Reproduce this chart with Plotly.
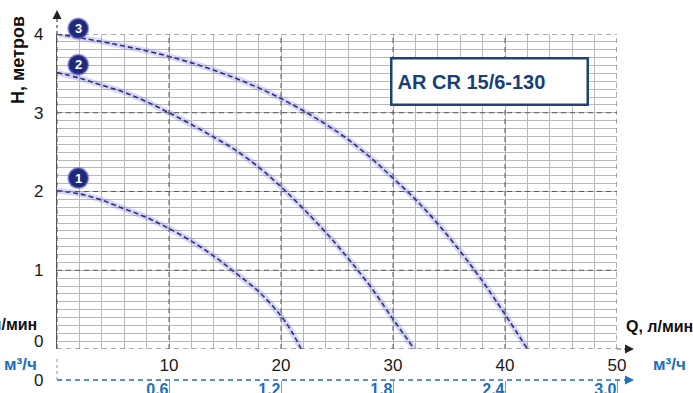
import plotly.graph_objects as go

# Pump curves: flow Q (л/мин) vs head H (метров) for speeds 1, 2, 3
q1 = [0, 2, 4, 6, 8, 10, 12, 14, 16, 18, 20, 21, 21.8]
h1 = [2.01, 1.97, 1.89, 1.78, 1.67, 1.53, 1.37, 1.18, 0.96, 0.73, 0.42, 0.21, 0.0]

q2 = [0, 2, 4, 6, 8, 10, 12, 14, 16, 18, 20, 22, 24, 26, 28, 30, 31.9]
h2 = [3.51, 3.44, 3.35, 3.26, 3.14, 3.00, 2.85, 2.69, 2.52, 2.31, 2.06, 1.78,
      1.48, 1.15, 0.79, 0.38, 0.0]

q3 = [0, 5, 10, 15, 20, 25, 28, 30, 32, 34, 36, 38, 40, 42]
h3 = [4.0, 3.875, 3.715, 3.49, 3.18, 2.76, 2.43, 2.17, 1.90, 1.59, 1.24, 0.86, 0.44, 0.0]

speed_labels = ["1", "2", "3"]
label_q = [1.9, 1.9, 1.9]
label_h = [2.17, 3.61, 4.07]

q_max, q_major, q_minor = 50, 10, 2
h_max, h_major_every = 4, 10   # minor step 0.1, labelled every 10th line
m3_ticks = [0.6, 1.2, 1.8, 2.4, 3.0]
m3_ticktext = ["0,6", "1,2", "1,8", "2,4", "3,0"]

W, H = 693, 393
L, R, T, B = 57, 76, 34, 13
X0, X1, YTOP, YBOT = L, W - R, T, H - B  # paper box in pixels
PLOT_BOTTOM = 349
Y_DOM0 = (YBOT - PLOT_BOTTOM) / (YBOT - YTOP)


def px(xp):
    return (xp - X0) / (X1 - X0)


def py(yp):
    return (YBOT - yp) / (YBOT - YTOP)


SANS = "Liberation Sans, Arial"
BLUE = "#1c6fb8"
NAVY = "#1d2a7a"
MINOR_GRID = "#b8b8b8"
MAJOR_GRID = "#5a5a5a"

# fine grid ticks; only the round values carry a label
q_tickvals = list(range(0, q_max + 1, q_minor))
q_ticktext = [str(v) if v % q_major == 0 and v > 0 else "" for v in q_tickvals]
h_steps = list(range(0, h_max * h_major_every + 1))
h_tickvals = [s / h_major_every for s in h_steps]
h_ticktext = [str(s // h_major_every) if s % h_major_every == 0 and s > 0 else ""
              for s in h_steps]

fig = go.Figure()

for q, h in [(q1, h1), (q2, h2), (q3, h3)]:
    fig.add_trace(go.Scatter(x=q, y=h, mode="lines", hoverinfo="skip",
                             line=dict(color="rgba(110,110,225,0.28)", width=6, shape="spline")))
    fig.add_trace(go.Scatter(x=q, y=h, mode="lines", hoverinfo="skip",
                             line=dict(color="#30307a", width=1.6, dash="5px,3px", shape="spline")))

# secondary flow scale (м³/ч) lives in its own flat strip at the bottom
fig.add_trace(go.Scatter(x=[0], y=[0], xaxis="x2", yaxis="y2", mode="markers",
                         marker=dict(opacity=0), hoverinfo="skip", showlegend=False))

fig.update_layout(
    width=W, height=H,
    margin=dict(l=L, r=R, t=T, b=B, autoexpand=False),
    paper_bgcolor="white", plot_bgcolor="white",
    showlegend=False,
    xaxis=dict(
        range=[0, q_max], tickmode="array", tickvals=q_tickvals, ticktext=q_ticktext,
        showgrid=True, gridcolor=MINOR_GRID, gridwidth=1,
        zeroline=False, showline=False, ticks="", automargin=False,
        ticklabelstandoff=4,
        tickfont=dict(family=SANS, size=17, color="#1a1a1a"),
        anchor="y",
    ),
    yaxis=dict(
        range=[0, h_max], domain=[Y_DOM0, 1],
        tickmode="array", tickvals=h_tickvals, ticktext=h_ticktext,
        showgrid=True, gridcolor=MINOR_GRID, gridwidth=1,
        zeroline=False, showline=True, linecolor="#555555", linewidth=1.3,
        ticks="", automargin=False, ticklabelstandoff=9,
        tickfont=dict(family=SANS, size=17, color="#1a1a1a"),
    ),
    xaxis2=dict(
        range=[0, 3.0], anchor="y2", domain=[0, 1],
        tickmode="array", tickvals=m3_ticks, ticktext=m3_ticktext,
        ticklabelposition="outside left", ticks="outside", ticklen=12,
        ticklabelstandoff=-5,
        tickcolor="#8a9bb5", tickwidth=1,
        showgrid=False, zeroline=False, showline=False, automargin=False,
        tickfont=dict(family=SANS, size=16, color=BLUE, weight="bold"),
    ),
    yaxis2=dict(domain=[0, 0.002], anchor="x2", visible=False, range=[0, 1],
                showgrid=False, zeroline=False),
)


def h_to_paper(h):
    return Y_DOM0 + (h / h_max) * (1 - Y_DOM0)


shapes = []
# dashed major grid every 10 л/мин and every 1 m
for v in range(0, q_max + 1, q_major):
    shapes.append(dict(type="line", xref="x", yref="y domain", x0=v, x1=v, y0=0, y1=1,
                       layer="above", line=dict(color=MAJOR_GRID, width=1, dash="5px,4px")))
for v in range(0, h_max + 1):
    shapes.append(dict(type="line", xref="x domain", yref="y", x0=0, x1=1, y0=v, y1=v,
                       layer="above", line=dict(color=MAJOR_GRID, width=1, dash="5px,4px")))

shapes += [
    # dashed extension of the head axis up to its arrow
    dict(type="line", xref="paper", yref="paper", x0=0, x1=0, y0=1, y1=py(17),
         line=dict(color="#444444", width=1.2, dash="3px,3px")),
    # dashed extension of the flow axis out to its arrow
    dict(type="line", xref="paper", yref="paper", x0=1, x1=px(625), y0=py(PLOT_BOTTOM),
         y1=py(PLOT_BOTTOM), line=dict(color="#555555", width=1.2, dash="4px,3px")),
    # м³/ч scale line
    dict(type="line", xref="paper", yref="paper", x0=0, x1=px(625), y0=0, y1=0,
         line=dict(color=BLUE, width=1.3, dash="5px,4px")),
    dict(type="line", xref="paper", yref="paper", x0=0, x1=0, y0=0, y1=py(358),
         line=dict(color="#7f93b3", width=1, dash="3px,3px")),
]
# numbered speed badges
for qv, hv in zip(label_q, label_h):
    shapes.append(dict(type="circle", xref="x", yref="paper", xsizemode="pixel",
                       ysizemode="pixel", xanchor=qv, yanchor=h_to_paper(hv),
                       x0=-10, x1=10, y0=-10, y1=10, fillcolor=NAVY,
                       line=dict(color="rgba(100,100,210,0.55)", width=2), layer="above"))
fig.update_layout(shapes=shapes)

ann = [
    # arrow heads
    dict(x=0, y=py(10), ax=0, ay=9, arrowcolor="#222222"),
    dict(x=px(634), y=py(PLOT_BOTTOM), ax=-10, ay=0, arrowcolor="#222222"),
    dict(x=px(634), y=0, ax=-10, ay=0, arrowcolor=BLUE),
]
for a in ann:
    a.update(xref="paper", yref="paper", text="", showarrow=True, arrowhead=2,
             arrowsize=1.2, arrowwidth=1.5)

texts = [
    # axis titles
    dict(x=px(18), y=py(60), text="H, метров", textangle=-90, xanchor="center",
         font=dict(size=18, color="#111111", weight="bold")),
    dict(x=px(624), y=py(326), text="Q, л/мин", xanchor="left",
         font=dict(size=16, color="#111111", weight="bold")),
    dict(x=px(39), y=py(324), text="Q, л/мин", xanchor="right",
         font=dict(size=16, color="#111111", weight="bold")),
    dict(x=px(651), y=py(364), text="м³/ч", xanchor="left",
         font=dict(size=17, color=BLUE, weight="bold")),
    dict(x=px(39), y=py(364), text="м³/ч", xanchor="right",
         font=dict(size=17, color=BLUE, weight="bold")),
    # origin labels
    dict(x=px(45), y=py(341), text="0", xanchor="right",
         font=dict(size=17, color="#1a1a1a")),
    dict(x=px(45), y=py(381), text="0", xanchor="right",
         font=dict(size=17, color="#1a1a1a")),
    # model name box
    dict(x=px(489), y=py(81), text="AR CR 15/6-130", xanchor="center",
         width=184, height=34, align="left", borderpad=5,
         bgcolor="white", bordercolor="#1d4479", borderwidth=2.5,
         font=dict(size=20, color="#173f78", weight="bold")),
]
for t in texts:
    t.update(xref="paper", yref="paper", showarrow=False, yanchor="middle")
    t["font"]["family"] = SANS
    ann.append(t)

# digits inside the speed badges
for s, qv, hv in zip(speed_labels, label_q, label_h):
    ann.append(dict(x=qv, xref="x", y=h_to_paper(hv), yref="paper", text=s,
                    showarrow=False, xanchor="center", yanchor="middle",
                    font=dict(family=SANS, size=13, color="white", weight="bold")))

fig.update_layout(annotations=ann)

fig.write_html("out.html")
